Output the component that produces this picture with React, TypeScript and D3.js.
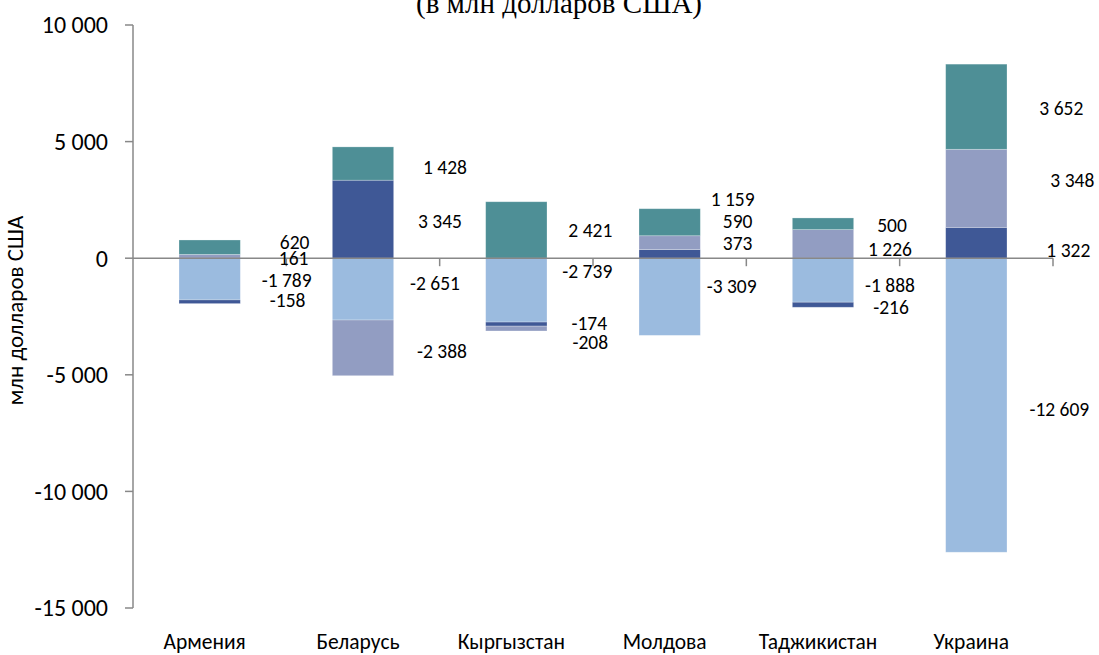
import React from 'react';
import * as d3 from 'd3';

const categories = ['Армения', 'Беларусь', 'Кыргызстан', 'Молдова', 'Таджикистан', 'Украина'];
const seriesKeys = ['s1', 's2', 's3', 's4'];
const series1 = [-1789, -2651, -2739, -3309, -1888, -12609];
const series2 = [-158, 3345, -174, 373, -216, 1322];
const series3 = [161, -2388, -208, 590, 1226, 3348];
const series4 = [620, 1428, 2421, 1159, 500, 3652];
const yTicks = [10000, 5000, 0, -5000, -10000, -15000];
const seriesColors = ['#9BBBDF', '#3F5896', '#929DC2', '#4E8F96'];
const titleText = '(в млн долларов США)';
const yAxisTitle = 'млн долларов США';

// manual label nudges in pixels (as in the original chart)
const labelDx = [
  [77, 72, 71, 62, 67, 83],
  [78, 77, 73, 68, 68, 92],
  [84, 79, 74, 68, 67, 96],
  [85, 82, 74, 63, 69, 85],
];
const labelDy = [
  [1, -6, -19, -11, 5, 4],
  [-2, 2, -1, -11, 2, 7],
  [2, 3, 14, -21, 5.5, -8],
  [-5, 3.5, 0, -23, 1, 1.6],
];

const W = 1099;
const H = 655;
const left = 133;
const right = 1053;
const top = 25;
const bottom = 608;

const locale = d3.formatLocale({
  decimal: ',',
  thousands: ' ',
  grouping: [3],
  currency: ['', ''],
  minus: '-',
});
const fmt = locale.format(',d');

const FONT = 'Carlito, Calibri, Lato, sans-serif';

export default function App() {
  const allSeries = [series1, series2, series3, series4];
  const table = categories.map((c, i) => {
    const row: any = { cat: c };
    seriesKeys.forEach((k, j) => (row[k] = allSeries[j][i]));
    return row;
  });
  const stacked = d3.stack().keys(seriesKeys).offset(d3.stackOffsetDiverging)(table);

  const x = d3.scaleBand().domain(categories).range([left, right]).paddingInner(0.6).paddingOuter(0.3);
  const y = d3.scaleLinear().domain([-15000, 10000]).range([bottom, top]);
  const step = x.step();
  const y0 = y(0);
  const axisColor = '#888888';

  return (
    <svg width={W} height={H} style={{ position: 'absolute', left: 0, top: 0, background: '#fff' }}>
      <text x={559} y={13} textAnchor="middle" fontFamily="'Liberation Serif', 'Times New Roman', serif" fontSize={29} fill="#000">
        {titleText}
      </text>

      {/* bars */}
      {stacked.map((layer, si) => (
        <g key={seriesKeys[si]}>
          {layer.map((d, i) => (
            <rect
              key={i}
              x={x(categories[i])!}
              width={x.bandwidth()}
              y={y(Math.max(d[0], d[1]))}
              height={Math.abs(y(d[0]) - y(d[1]))}
              fill={seriesColors[si]}
              stroke="#ffffff"
              strokeOpacity={0.35}
              strokeWidth={0.75}
            />
          ))}
        </g>
      ))}

      {/* y axis */}
      <line x1={left} x2={left} y1={y(10000)} y2={y(-15000)} stroke={axisColor} strokeWidth={1.5} />
      {yTicks.map((t) => (
        <g key={t}>
          <line x1={left - 8} x2={left} y1={y(t)} y2={y(t)} stroke={axisColor} strokeWidth={1.5} />
          <text x={108} y={y(t)} dy="0.35em" textAnchor="end" fontFamily={FONT} fontSize={24} fill="#000">
            {fmt(t)}
          </text>
        </g>
      ))}

      {/* zero axis */}
      <line x1={left} x2={right} y1={y0} y2={y0} stroke={axisColor} strokeWidth={1.5} />
      {categories.map((c, i) => (
        <line key={c} x1={left + step * (i + 1)} x2={left + step * (i + 1)} y1={y0} y2={y0 + 8} stroke={axisColor} strokeWidth={1.5} />
      ))}

      {/* data labels */}
      {stacked.map((layer, si) =>
        layer.map((d, i) => {
          const cx = x(categories[i])! + x.bandwidth() / 2 + labelDx[si][i];
          const cy = (y(d[0]) + y(d[1])) / 2 + labelDy[si][i];
          return (
            <text key={`${si}-${i}`} x={cx} y={cy} dy="0.35em" textAnchor="middle" fontFamily={FONT} fontSize={19.5} fill="#000">
              {fmt(allSeries[si][i])}
            </text>
          );
        })
      )}

      {/* category labels */}
      {categories.map((c) => (
        <text key={c} x={x(c)! + x.bandwidth() / 2 - 5} y={649} textAnchor="middle" fontFamily={FONT} fontSize={21.5} fill="#000">
          {c}
        </text>
      ))}

      {/* y axis title */}
      <text
        transform={`translate(23, ${(y(10000) + y(-15000)) / 2 - 6}) rotate(-90)`}
        textAnchor="middle"
        fontFamily={FONT}
        fontSize={23}
        fill="#000"
      >
        {yAxisTitle}
      </text>
    </svg>
  );
}
